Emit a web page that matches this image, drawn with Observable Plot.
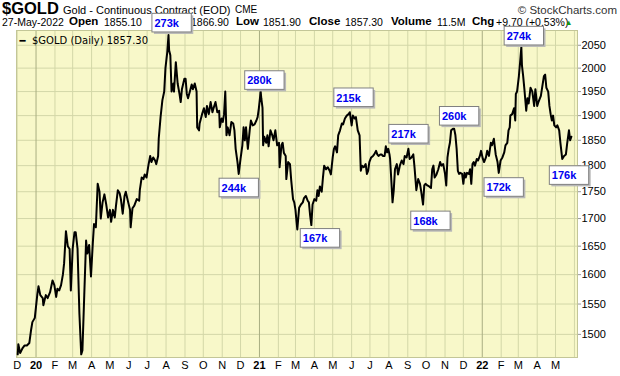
<!DOCTYPE html>
<html><head><meta charset="utf-8">
<script src="https://cdn.jsdelivr.net/npm/d3@7"></script>
<script src="https://cdn.jsdelivr.net/npm/@observablehq/plot@0.6"></script>
<style>
body{margin:0;background:#fff;font-family:"Liberation Sans",Arial,sans-serif;}
#wrap{position:relative;width:620px;height:376px;overflow:hidden;}
#head{position:absolute;left:0;top:0;width:620px;height:32px;z-index:0;}
#head span{position:absolute;white-space:nowrap;color:#000;line-height:1;}
#head .b{font-weight:bold;font-size:11.5px;top:16.3px;}
#head .n{font-size:10.5px;top:17px;}
#chart{position:absolute;left:0;top:0;z-index:1;}
</style></head><body>
<div id="wrap">
<div id="head">
<span style="left:2px;top:0px;font-size:16.5px;font-weight:bold;">$GOLD</span>
<span style="left:63px;top:4.5px;font-size:11px;">Gold - Continuous Contract (EOD)</span>
<span style="left:235px;top:5px;font-size:10px;">CME</span>
<span style="right:3px;top:4.5px;font-size:11.5px;color:#333;">© StockCharts.com</span>
<span class="n" style="left:2px;">27-May-2022</span>
<span class="b" style="left:69px;">Open</span>
<span class="n" style="left:104px;">1855.10</span>
<span class="b" style="left:156px;">High</span>
<span class="n" style="left:191px;">1866.90</span>
<span class="b" style="left:236px;">Low</span>
<span class="n" style="left:263px;">1851.90</span>
<span class="b" style="left:309px;">Close</span>
<span class="n" style="left:345px;">1857.30</span>
<span class="b" style="left:391px;">Volume</span>
<span class="n" style="left:437px;">11.5M</span>
<span class="b" style="left:472px;">Chg</span>
<span class="n" style="left:496px;">+9.70 (+0.53%)</span>
<span style="left:565px;top:19px;font-size:7.5px;color:#119911;">▲</span>
</div>
<div id="chart"></div>
</div>
<script>
// Gold continuous contract, daily closes
const goldCloses = [
["2019-12-02",1468],["2019-12-03",1484],["2019-12-06",1470],["2019-12-10",1478],["2019-12-13",1482],["2019-12-17",1482],["2019-12-21",1486],["2019-12-24",1508],["2019-12-26",1520],["2019-12-30",1527],
["2020-01-03",1565],["2020-01-05",1580],["2020-01-08",1565],["2020-01-12",1560],["2020-01-13",1548],["2020-01-17",1565],["2020-01-20",1560],["2020-01-24",1570],["2020-01-28",1590],["2020-01-31",1582],
["2020-02-03",1562],["2020-02-05",1576],["2020-02-08",1573],["2020-02-11",1582],["2020-02-14",1600],["2020-02-16",1620],["2020-02-19",1677],["2020-02-22",1650],["2020-02-25",1645],["2020-02-27",1573],
["2020-03-01",1645],["2020-03-04",1675],["2020-03-06",1675],["2020-03-09",1645],["2020-03-12",1535],["2020-03-15",1468],["2020-03-17",1474],["2020-03-20",1565],["2020-03-23",1660],["2020-03-25",1637],["2020-03-28",1652],["2020-03-31",1597],
["2020-04-03",1655],["2020-04-05",1690],["2020-04-08",1684],["2020-04-11",1765],["2020-04-14",1750],["2020-04-16",1700],["2020-04-19",1730],["2020-04-22",1745],["2020-04-25",1726],["2020-04-28",1702],
["2020-05-01",1716],["2020-05-03",1694],["2020-05-06",1716],["2020-05-09",1702],["2020-05-11",1724],["2020-05-14",1753],["2020-05-17",1747],["2020-05-19",1736],["2020-05-22",1709],["2020-05-25",1742],["2020-05-27",1750],["2020-05-31",1730],
["2020-06-03",1716],["2020-06-04",1684],["2020-06-07",1719],["2020-06-10",1724],["2020-06-14",1736],["2020-06-18",1733],["2020-06-19",1753],["2020-06-22",1777],["2020-06-25",1774],["2020-06-27",1783],["2020-06-30",1777],
["2020-07-03",1800],["2020-07-06",1819],["2020-07-08",1807],["2020-07-11",1816],["2020-07-14",1810],["2020-07-16",1803],["2020-07-19",1819],["2020-07-20",1853],["2020-07-22",1882],["2020-07-23",1897],["2020-07-26",1932],["2020-07-29",1950],["2020-07-31",2000],
["2020-08-03",2035],["2020-08-05",2073],["2020-08-06",2039],["2020-08-08",2028],["2020-08-10",1950],["2020-08-13",1967],["2020-08-14",1950],["2020-08-17",2013],["2020-08-20",1967],["2020-08-23",1945],["2020-08-25",1928],["2020-08-27",1955],["2020-08-31",1977],
["2020-09-02",1977],["2020-09-04",1945],["2020-09-06",1936],["2020-09-09",1950],["2020-09-12",1965],["2020-09-14",1955],["2020-09-17",1967],["2020-09-20",1950],["2020-09-21",1876],["2020-09-24",1870],["2020-09-25",1884],["2020-09-29",1903],
["2020-10-02",1915],["2020-10-05",1897],["2020-10-07",1920],["2020-10-10",1903],["2020-10-13",1928],["2020-10-16",1907],["2020-10-18",1916],["2020-10-21",1928],["2020-10-24",1907],["2020-10-27",1910],["2020-10-28",1876],["2020-10-31",1894],
["2020-11-02",1887],["2020-11-04",1903],["2020-11-06",1950],["2020-11-08",1860],["2020-11-10",1876],["2020-11-13",1860],["2020-11-16",1887],["2020-11-19",1884],["2020-11-21",1870],["2020-11-23",1833],["2020-11-26",1807],["2020-11-28",1784],
["2020-12-01",1813],["2020-12-04",1840],["2020-12-06",1876],["2020-12-08",1850],["2020-12-10",1876],["2020-12-13",1833],["2020-12-16",1870],["2020-12-18",1890],["2020-12-21",1880],["2020-12-24",1882],["2020-12-27",1890],["2020-12-29",1897],["2020-12-31",1915],
["2021-01-03",1950],["2021-01-04",1936],["2021-01-06",1916],["2021-01-07",1840],["2021-01-09",1857],["2021-01-12",1845],["2021-01-14",1860],["2021-01-16",1838],["2021-01-19",1870],["2021-01-22",1860],["2021-01-24",1850],["2021-01-27",1870],["2021-01-30",1840],
["2021-02-02",1845],["2021-02-03",1797],["2021-02-06",1840],["2021-02-08",1845],["2021-02-10",1825],["2021-02-13",1819],["2021-02-14",1774],["2021-02-17",1807],["2021-02-20",1803],["2021-02-22",1772],["2021-02-25",1736],["2021-02-27",1730],
["2021-03-01",1716],["2021-03-02",1703],["2021-03-04",1680],["2021-03-07",1720],["2021-03-10",1726],["2021-03-13",1730],["2021-03-15",1738],["2021-03-18",1742],["2021-03-21",1733],["2021-03-23",1730],["2021-03-25",1706],["2021-03-27",1688],["2021-03-29",1726],
["2021-04-01",1736],["2021-04-04",1733],["2021-04-06",1753],["2021-04-08",1742],["2021-04-10",1760],["2021-04-13",1750],["2021-04-15",1777],["2021-04-17",1800],["2021-04-20",1793],["2021-04-23",1797],["2021-04-26",1790],["2021-04-28",1783],
["2021-05-01",1816],["2021-05-03",1833],["2021-05-05",1838],["2021-05-08",1826],["2021-05-10",1860],["2021-05-13",1870],["2021-05-16",1884],["2021-05-18",1882],["2021-05-21",1894],["2021-05-24",1900],["2021-05-27",1903],["2021-05-29",1907],
["2021-06-01",1880],["2021-06-03",1900],["2021-06-06",1894],["2021-06-08",1897],["2021-06-11",1870],["2021-06-14",1860],["2021-06-16",1790],["2021-06-18",1800],["2021-06-21",1797],["2021-06-24",1803],["2021-06-26",1784],["2021-06-28",1790],["2021-06-30",1807],
["2021-07-03",1816],["2021-07-06",1819],["2021-07-08",1822],["2021-07-11",1829],["2021-07-13",1822],["2021-07-15",1819],["2021-07-18",1822],["2021-07-20",1822],["2021-07-22",1819],["2021-07-25",1819],["2021-07-27",1838],["2021-07-29",1826],["2021-07-31",1833],
["2021-08-02",1822],["2021-08-03",1813],["2021-08-05",1772],["2021-08-07",1730],["2021-08-09",1753],["2021-08-11",1793],["2021-08-14",1803],["2021-08-16",1783],["2021-08-19",1800],["2021-08-22",1810],["2021-08-25",1803],["2021-08-27",1819],["2021-08-30",1816],
["2021-09-02",1833],["2021-09-04",1813],["2021-09-07",1816],["2021-09-10",1822],["2021-09-12",1797],["2021-09-15",1753],["2021-09-18",1774],["2021-09-21",1765],["2021-09-23",1750],["2021-09-26",1726],["2021-09-28",1762],["2021-09-30",1765],
["2021-10-03",1762],["2021-10-06",1760],["2021-10-09",1757],["2021-10-11",1793],["2021-10-13",1800],["2021-10-15",1777],["2021-10-18",1783],["2021-10-21",1793],["2021-10-24",1807],["2021-10-26",1800],["2021-10-29",1803],
["2021-11-01",1784],["2021-11-03",1762],["2021-11-05",1816],["2021-11-07",1833],["2021-11-09",1845],["2021-11-11",1870],["2021-11-14",1873],["2021-11-16",1873],["2021-11-18",1860],["2021-11-20",1833],["2021-11-22",1790],["2021-11-24",1784],["2021-11-26",1786],["2021-11-29",1784],
["2021-12-01",1765],["2021-12-03",1786],["2021-12-05",1777],["2021-12-07",1786],["2021-12-10",1784],["2021-12-12",1793],["2021-12-14",1765],["2021-12-16",1803],["2021-12-18",1807],["2021-12-20",1800],["2021-12-23",1813],["2021-12-25",1810],["2021-12-28",1819],["2021-12-30",1829],
["2022-01-02",1813],["2022-01-04",1807],["2022-01-07",1816],["2022-01-09",1829],["2022-01-12",1819],["2022-01-15",1845],["2022-01-17",1840],["2022-01-20",1853],["2022-01-23",1822],["2022-01-26",1807],["2022-01-28",1786],["2022-01-31",1810],
["2022-02-03",1816],["2022-02-06",1826],["2022-02-08",1840],["2022-02-11",1845],["2022-02-13",1870],["2022-02-15",1876],["2022-02-16",1900],["2022-02-19",1903],["2022-02-22",1915],["2022-02-24",1890],["2022-02-25",1945],["2022-02-27",1950],
["2022-03-02",1983],["2022-03-04",2013],["2022-03-06",2046],["2022-03-07",2006],["2022-03-09",1983],["2022-03-11",1955],["2022-03-14",1910],["2022-03-16",1936],["2022-03-18",1925],["2022-03-21",1958],["2022-03-24",1950],["2022-03-27",1920],["2022-03-29",1955],
["2022-04-01",1920],["2022-04-03",1928],["2022-04-07",1941],["2022-04-09",1958],["2022-04-12",1983],["2022-04-14",1986],["2022-04-16",1958],["2022-04-19",1950],["2022-04-21",1920],["2022-04-23",1903],["2022-04-25",1890],["2022-04-27",1900],["2022-04-29",1880],
["2022-05-02",1876],["2022-05-04",1880],["2022-05-07",1870],["2022-05-09",1845],["2022-05-12",1813],["2022-05-15",1819],["2022-05-18",1822],["2022-05-20",1843],["2022-05-23",1870],["2022-05-25",1850],["2022-05-27",1857]
];

// volume call-outs: date and price level of the box edge nearest the line
const volLabels = ["273k","280k","244k","167k","215k","217k","168k","260k","172k","274k","176k"];
const volDates  = ["2020-08-02","2021-01-01","2020-11-20","2021-04-02","2021-05-27","2021-08-25","2021-09-30","2021-11-16","2022-01-28","2022-03-02","2022-05-15"];
const volValues = [2078,1953,1775,1681,1917,1843,1713,1879,1776,2049,1799];
const volSide   = ["above","above","below","below","above","above","below","above","below","above","below"];

// axes
const yTicks = [1500,1550,1600,1650,1700,1750,1800,1850,1900,1950,2000,2050];
const monthLabels = ["D","20","F","M","A","M","J","J","A","S","O","N","D","21","F","M","A","M","J","J","A","S","O","N","D","22","F","M","A","M"];
const legendText = "$GOLD (Daily) 1857.30";

const parse = d3.utcParse("%Y-%m-%d");
const series = goldCloses.map(([d, v]) => ({date: parse(d), close: v}));
const monthTicks = d3.utcMonth.range(parse("2019-12-01"), parse("2022-06-02"));
const monthText = monthLabels.map((t, i) => ({date: monthTicks[i], text: t, year: /\d/.test(t)}));
const vol = volLabels.map((t, i) => ({date: parse(volDates[i]), value: volValues[i], text: t, side: volSide[i]}));

const grid = "#d3d7a8", yearGrid = "#a9ae82";
const labelFont = "Liberation Sans, Arial, sans-serif";

const chart = Plot.plot({
  width: 620, height: 376,
  marginLeft: 16, marginRight: 43, marginTop: 30, marginBottom: 19,
  style: {background: "transparent", fontFamily: labelFont, fontSize: "11px", overflow: "visible"},
  x: {type: "utc", domain: [parse("2019-11-30"), parse("2022-06-06")], axis: null},
  y: {type: "log", domain: [1463, 2083], axis: null},
  marks: [
    Plot.frame({fill: "#f8f8c9", stroke: null}),
    Plot.ruleY(yTicks, {stroke: grid, strokeWidth: 1}),
    Plot.ruleX(monthTicks.filter(d => d.getUTCMonth() !== 0), {stroke: grid, strokeWidth: 1}),
    Plot.ruleX(monthTicks.filter(d => d.getUTCMonth() === 0), {stroke: yearGrid, strokeWidth: 1}),
    Plot.frame({stroke: "#c3c697"}),
    Plot.axisY({anchor: "right", ticks: yTicks, tickSize: 3, tickPadding: 1, tickFormat: d => String(d), label: null, fontSize: 11, stroke: "#999", fill: "#000"}),
    Plot.text(monthText.filter(d => !d.year), {x: "date", text: "text", frameAnchor: "bottom", dy: 11, fontSize: 11, fill: "#000"}),
    Plot.text(monthText.filter(d => d.year), {x: "date", text: "text", frameAnchor: "bottom", dy: 11, fontSize: 11, fontWeight: "bold", fill: "#000"}),
    Plot.line(series, {x: "date", y: "close", stroke: "#000", strokeWidth: 2, strokeLinejoin: "round", curve: "linear"}),
    Plot.text(["━"], {text: d => d, frameAnchor: "top-left", dx: 3, dy: 6, textAnchor: "start", fontFamily: "DejaVu Sans", fontSize: 10, fill: "#000"}),
    Plot.text([legendText], {text: d => d, frameAnchor: "top-left", dx: 15.5, dy: 6, textAnchor: "start", fontFamily: "DejaVu Sans", fontSize: 10, fill: "#000"}),
    Plot.text(vol.filter(d => d.side === "above"), {x: "date", y: "value", text: "text", dy: -9.3, fill: "#0000f0", fontWeight: "bold", fontSize: 11}),
    Plot.text(vol.filter(d => d.side === "below"), {x: "date", y: "value", text: "text", dy: 9.7, fill: "#0000f0", fontWeight: "bold", fontSize: 11})
  ]
});
document.getElementById("chart").append(chart);

// white call-out boxes with a grey drop shadow behind each volume label
const ns = "http://www.w3.org/2000/svg";
Array.from(chart.querySelectorAll("text"))
  .filter(t => volLabels.includes(t.textContent.trim()) && t.getAttribute("fill") !== "#000")
  .forEach(t => {
    const b = t.getBBox();
    const cy = b.y + b.height / 2 - 0.3;
    const x = b.x - 2.5, y = cy - 9.3, w = b.width + 14, h = 18.6;
    const tr = t.getAttribute("transform");
    const mk = (dx, fill, stroke) => {
      const r = document.createElementNS(ns, "rect");
      r.setAttribute("x", x + dx); r.setAttribute("y", y + dx);
      r.setAttribute("width", w); r.setAttribute("height", h);
      r.setAttribute("fill", fill);
      if (stroke) { r.setAttribute("stroke", stroke); r.setAttribute("stroke-width", 1); }
      if (tr) r.setAttribute("transform", tr);
      t.parentNode.insertBefore(r, t);
    };
    mk(2, "#b8b8b8", null);
    mk(0, "#ffffff", "#808080");
  });
</script>
</body></html>
